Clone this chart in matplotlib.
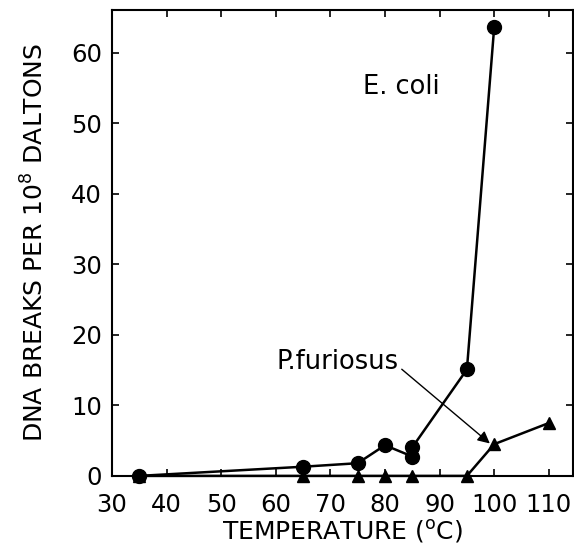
import matplotlib
matplotlib.use('Agg')
import matplotlib.pyplot as plt

# E. coli (circles)
ecoli_temp = [35, 65, 75, 80, 85, 85, 95, 100]
ecoli_breaks = [0, 1.3, 1.8, 4.35, 2.75, 4.05, 15.1, 63.7]

# P. furiosus (triangles)
pfu_temp = [35, 65, 75, 80, 85, 95, 100, 110]
pfu_breaks = [0, 0, 0, 0, 0, 0, 4.5, 7.5]

xticks = [30, 40, 50, 60, 70, 80, 90, 100, 110]
yticks = [0, 10, 20, 30, 40, 50, 60]

fig = plt.figure(figsize=(5.74, 5.54), dpi=100)
ax = fig.add_axes([0.195, 0.141, 0.803, 0.841])

ax.plot(ecoli_temp, ecoli_breaks, color='black', lw=1.8, marker='o',
        markersize=10, clip_on=False, zorder=3)
ax.plot(pfu_temp, pfu_breaks, color='black', lw=1.8, marker='^',
        markersize=9, clip_on=False, zorder=2)

ax.set_xlim(30, 114.4)
ax.set_ylim(0, 66.1)
ax.set_xticks(xticks)
ax.set_yticks(yticks)
ax.tick_params(direction='in', length=5, width=1.2, top=True, right=True,
               labelsize=17.5)
ax.tick_params(axis='y', pad=7)
ax.tick_params(axis='x', pad=12)
for s in ax.spines.values():
    s.set_linewidth(1.5)

ax.set_xlabel('TEMPERATURE ($^{\\mathrm{o}}$C)', fontsize=18, labelpad=1)
ax.set_ylabel('DNA BREAKS PER 10$^{8}$ DALTONS', fontsize=18, labelpad=16)

ax.text(76, 55.2, 'E. coli', fontsize=18.5, va='center', ha='left')
ax.annotate('P.furiosus', xy=(99.2, 4.6), xytext=(60.2, 16.2),
            fontsize=18.5, va='center', ha='left',
            arrowprops=dict(arrowstyle='-|>', color='black', lw=1,
                            shrinkA=0, shrinkB=0, mutation_scale=18,
                            relpos=(1.0, 0.3)))

fig.savefig('out.png', dpi=100)
